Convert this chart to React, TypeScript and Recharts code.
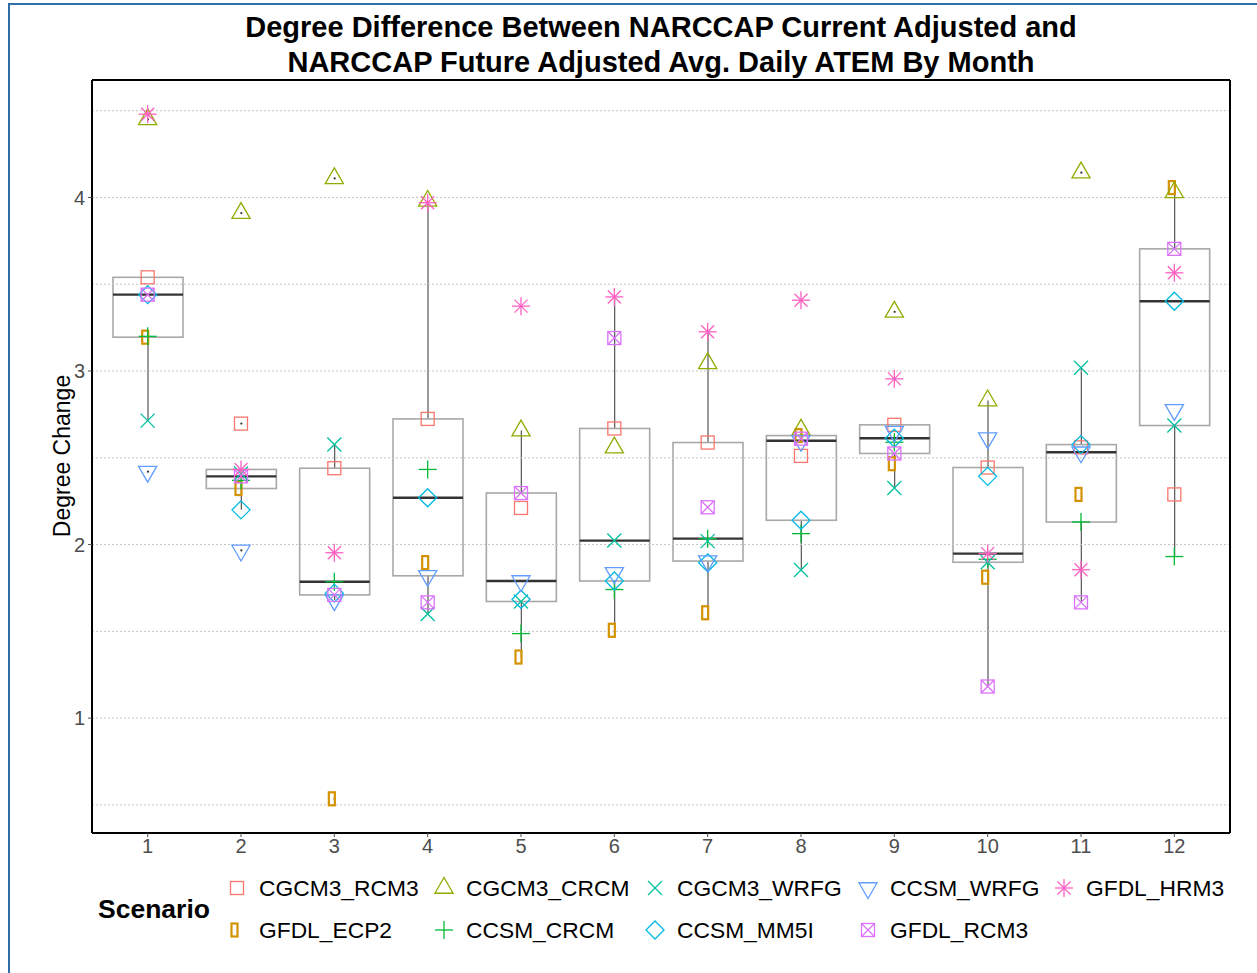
import React from 'react';
import { ComposedChart, XAxis, YAxis, Bar, Scatter, ReferenceLine } from 'recharts';

// ---------- data ----------
const months = [1, 2, 3, 4, 5, 6, 7, 8, 9, 10, 11, 12];

const CGCM3_RCM3 = [3.54, 2.697, 2.44, 2.724, 2.211, 2.669, 2.588, 2.511, 2.69, 2.444, 2.56, 2.289];
const GFDL_ECP2 = [3.195, 2.323, 0.535, 1.896, 1.352, 1.506, 1.607, 2.628, 2.466, 1.812, 2.289, 4.057];
const CGCM3_CRCM = [4.45, 3.91, 4.11, 3.98, 2.657, 2.559, 3.044, 2.661, 3.341, 2.83, 4.143, 4.029];
const CCSM_CRCM = [3.2, 2.37, 1.786, 2.433, 1.487, 1.741, 2.034, 2.063, 2.59, 1.915, 2.13, 1.931];
const CGCM3_WRFG = [2.714, 2.41, 2.577, 1.6, 1.672, 2.023, 2.02, 1.853, 2.326, 1.898, 3.019, 2.686];
const CCSM_MM5I = [3.44, 2.2, 1.72, 2.27, 1.685, 1.79, 1.895, 2.14, 2.613, 2.393, 2.576, 3.402];
const CCSM_WRFG = [2.42, 1.966, 1.68, 1.82, 1.79, 1.837, 1.905, 2.598, 2.651, 2.613, 2.532, 2.776];
const GFDL_RCM3 = [3.44, 2.393, 1.71, 1.667, 2.297, 3.19, 2.215, 2.61, 2.525, 1.182, 1.667, 3.704];
const GFDL_HRM3 = [4.48, 2.433, 1.953, 3.97, 3.374, 3.427, 3.226, 3.408, 2.955, 1.948, 1.855, 3.566];

const yTicks = [1, 2, 3, 4];
const gridValues = [0.5, 1, 1.5, 2, 2.5, 3, 3.5, 4, 4.5];
const yDomain = [0.338, 4.677];

type Kind = 'square' | 'ecp' | 'triUp' | 'plus' | 'cross' | 'diamond' | 'triDown' | 'boxX' | 'star';

const series: { name: string; values: number[]; color: string; kind: Kind }[] = [
  { name: 'CGCM3_RCM3', values: CGCM3_RCM3, color: '#F8766D', kind: 'square' },
  { name: 'GFDL_ECP2', values: GFDL_ECP2, color: '#D39200', kind: 'ecp' },
  { name: 'CGCM3_CRCM', values: CGCM3_CRCM, color: '#93AA00', kind: 'triUp' },
  { name: 'CCSM_CRCM', values: CCSM_CRCM, color: '#00BA38', kind: 'plus' },
  { name: 'CGCM3_WRFG', values: CGCM3_WRFG, color: '#00C19F', kind: 'cross' },
  { name: 'CCSM_MM5I', values: CCSM_MM5I, color: '#00B9E3', kind: 'diamond' },
  { name: 'CCSM_WRFG', values: CCSM_WRFG, color: '#619CFF', kind: 'triDown' },
  { name: 'GFDL_RCM3', values: GFDL_RCM3, color: '#DB72FB', kind: 'boxX' },
  { name: 'GFDL_HRM3', values: GFDL_HRM3, color: '#FF61C3', kind: 'star' },
];

// legend layout order (two rows)
const legendRow1 = ['CGCM3_RCM3', 'CGCM3_CRCM', 'CGCM3_WRFG', 'CCSM_WRFG', 'GFDL_HRM3'];
const legendRow2 = ['GFDL_ECP2', 'CCSM_CRCM', 'CCSM_MM5I', 'GFDL_RCM3'];

// ---------- box stats (R type 7 quantiles) ----------
function quantile(sorted: number[], p: number) {
  const h = (sorted.length - 1) * p;
  const lo = Math.floor(h);
  const hi = Math.ceil(h);
  return sorted[lo] + (h - lo) * (sorted[hi] - sorted[lo]);
}

const boxData = months.map((m, i) => {
  const vals = series.map((s) => s.values[i]);
  const sorted = [...vals].sort((a, b) => a - b);
  const q1 = quantile(sorted, 0.25);
  const med = quantile(sorted, 0.5);
  const q3 = quantile(sorted, 0.75);
  const iqr = q3 - q1;
  const inside = sorted.filter((v) => v >= q1 - 1.5 * iqr && v <= q3 + 1.5 * iqr);
  const lo = Math.min(...inside);
  const hi = Math.max(...inside);
  const outliers = sorted.filter((v) => v < q1 - 1.5 * iqr || v > q3 + 1.5 * iqr);
  return { month: m, q1, med, q3, lo, hi, outliers, range: [lo, hi] };
});

// ---------- shapes ----------
const SW = 1.3;
function Marker({ kind, cx, cy, color }: { kind: Kind; cx: number; cy: number; color: string }) {
  const p = { stroke: color, strokeWidth: SW, fill: 'none' };
  switch (kind) {
    case 'square':
      return <rect x={cx - 6.5} y={cy - 6.5} width={13} height={13} {...p} />;
    case 'ecp':
      return <rect x={cx - 5.5} y={cy - 6.5} width={6} height={13} stroke={color} strokeWidth={2.2} fill="none" />;
    case 'triUp':
      return <polygon points={`${cx},${cy - 10.5} ${cx - 9.1},${cy + 5.25} ${cx + 9.1},${cy + 5.25}`} {...p} />;
    case 'triDown':
      return <polygon points={`${cx},${cy + 10.5} ${cx - 9.1},${cy - 5.25} ${cx + 9.1},${cy - 5.25}`} {...p} />;
    case 'plus':
      return (
        <g {...p}>
          <line x1={cx - 9} y1={cy} x2={cx + 9} y2={cy} />
          <line x1={cx} y1={cy - 9} x2={cx} y2={cy + 9} />
        </g>
      );
    case 'cross':
      return (
        <g {...p}>
          <line x1={cx - 7} y1={cy - 7} x2={cx + 7} y2={cy + 7} />
          <line x1={cx - 7} y1={cy + 7} x2={cx + 7} y2={cy - 7} />
        </g>
      );
    case 'diamond':
      return <polygon points={`${cx},${cy - 9} ${cx + 9},${cy} ${cx},${cy + 9} ${cx - 9},${cy}`} {...p} />;
    case 'boxX':
      return (
        <g {...p}>
          <rect x={cx - 6.5} y={cy - 6.5} width={13} height={13} />
          <line x1={cx - 6.5} y1={cy - 6.5} x2={cx + 6.5} y2={cy + 6.5} />
          <line x1={cx - 6.5} y1={cy + 6.5} x2={cx + 6.5} y2={cy - 6.5} />
        </g>
      );
    case 'star':
      return (
        <g {...p}>
          <line x1={cx - 9} y1={cy} x2={cx + 9} y2={cy} />
          <line x1={cx} y1={cy - 9} x2={cx} y2={cy + 9} />
          <line x1={cx - 6.5} y1={cy - 6.5} x2={cx + 6.5} y2={cy + 6.5} />
          <line x1={cx - 6.5} y1={cy + 6.5} x2={cx + 6.5} y2={cy - 6.5} />
        </g>
      );
  }
  return null;
}

function BoxShape(props: any) {
  const { x, y, width, height, payload } = props;
  if (x == null || y == null || !payload) return null;
  const top = Math.min(y, y + height);
  const bot = Math.max(y, y + height);
  const { lo, hi, q1, q3, med, outliers } = payload;
  const toPx = (v: number) => bot - ((v - lo) / (hi - lo)) * (bot - top);
  const cx = x + width / 2;
  const yq1 = toPx(q1);
  const yq3 = toPx(q3);
  const ymed = toPx(med);
  return (
    <g>
      <line x1={cx} y1={top} x2={cx} y2={bot} stroke="#555" strokeWidth={1.2} />
      <rect x={x} y={yq3} width={width} height={yq1 - yq3} fill="#fff" stroke="#A8A8A8" strokeWidth={1.6} />
      <line x1={x} y1={ymed} x2={x + width} y2={ymed} stroke="#333" strokeWidth={2.4} />
      {outliers.map((v: number, k: number) => (
        <circle key={k} cx={cx} cy={toPx(v)} r={1.1} fill="#333" />
      ))}
    </g>
  );
}

const FONT = '"Liberation Sans", Arial, sans-serif';

function LegendItem({ name, x, y }: { name: string; x: number; y: number }) {
  const s = series.find((q) => q.name === name)!;
  return (
    <>
      <svg style={{ position: 'absolute', left: x - 12, top: y - 12 }} width={24} height={24}>
        <Marker kind={s.kind} cx={12} cy={12} color={s.color} />
      </svg>
      <div
        style={{
          position: 'absolute',
          left: x + 22,
          top: y - 14,
          height: 28,
          lineHeight: '28px',
          fontSize: 22.8,
          fontFamily: FONT,
          color: '#000',
          whiteSpace: 'nowrap',
        }}
      >
        {name}
      </div>
    </>
  );
}

const legendCols = [237, 444, 655, 868, 1064];

export default function App() {
  return (
    <div style={{ position: 'absolute', left: 0, top: 0, width: 1257, height: 973, background: '#fff', overflow: 'hidden', fontFamily: FONT }}>
      <div style={{ position: 'absolute', left: 8, top: 3, width: 1300, height: 1000, borderLeft: '2px solid #2F6DA8', borderTop: '2px solid #2F6DA8' }} />
      <div
        style={{
          position: 'absolute',
          left: 161,
          top: 10,
          width: 1000,
          textAlign: 'center',
          fontSize: 29,
          fontWeight: 'bold',
          lineHeight: '35px',
          color: '#000',
        }}
      >
        Degree Difference Between NARCCAP Current Adjusted and
        <br />
        NARCCAP Future Adjusted Avg. Daily ATEM By Month
      </div>
      <div
        style={{
          position: 'absolute',
          left: 62 - 150,
          top: 456 - 15,
          width: 300,
          height: 30,
          lineHeight: '30px',
          textAlign: 'center',
          fontSize: 23,
          color: '#000',
          transform: 'rotate(-90deg)',
        }}
      >
        Degree Change
      </div>
      <div style={{ position: 'absolute', left: 0, top: 0 }}>
        <ComposedChart width={1257} height={973} data={boxData} margin={{ top: 79, right: 26, bottom: 110, left: 0 }}>
          <XAxis
            dataKey="month"
            type="category"
            allowDuplicatedCategory={false}
            padding={{ left: 9, right: 9 }}
            height={30}
            tickSize={4}
            tickMargin={2}
            tick={{ fill: '#4D4D4D', fontSize: 20, fontFamily: FONT }}
            tickLine={{ stroke: '#4D4D4D' }}
            axisLine={{ stroke: '#000', strokeWidth: 2 }}
          />
          <XAxis
            xAxisId="top"
            dataKey="month"
            type="category"
            orientation="top"
            allowDuplicatedCategory={false}
            padding={{ left: 9, right: 9 }}
            height={1}
            tick={false}
            tickLine={false}
            axisLine={{ stroke: '#000', strokeWidth: 2 }}
          />
          <YAxis
            type="number"
            domain={yDomain}
            ticks={yTicks}
            allowDataOverflow
            width={92}
            tickSize={4}
            tickMargin={3}
            tick={{ fill: '#4D4D4D', fontSize: 20, fontFamily: FONT }}
            tickLine={{ stroke: '#4D4D4D' }}
            axisLine={{ stroke: '#000', strokeWidth: 2 }}
          />
          <YAxis
            yAxisId="right"
            orientation="right"
            type="number"
            domain={yDomain}
            allowDataOverflow
            width={1}
            tick={false}
            tickLine={false}
            axisLine={{ stroke: '#000', strokeWidth: 2 }}
          />
          {gridValues.map((v) => (
            <ReferenceLine key={v} y={v} stroke="#C4C4C4" strokeDasharray="2 2" strokeWidth={1} />
          ))}
          <Bar dataKey="range" barSize={70} isAnimationActive={false} shape={BoxShape} />
          {series.map((s) => (
            <Scatter
              key={s.name}
              name={s.name}
              data={months.map((m, i) => ({ month: m, value: s.values[i] }))}
              dataKey="value"
              isAnimationActive={false}
              shape={(p: any) => <Marker kind={s.kind} cx={p.cx} cy={p.cy} color={s.color} />}
            />
          ))}
        </ComposedChart>
      </div>
      <div
        style={{
          position: 'absolute',
          left: 98,
          top: 909 - 16,
          height: 32,
          lineHeight: '32px',
          fontSize: 26.5,
          fontWeight: 'bold',
          color: '#000',
        }}
      >
        Scenario
      </div>
      {legendRow1.map((n, i) => (
        <LegendItem key={n} name={n} x={legendCols[i]} y={888} />
      ))}
      {legendRow2.map((n, i) => (
        <LegendItem key={n} name={n} x={legendCols[i]} y={930} />
      ))}
    </div>
  );
}
